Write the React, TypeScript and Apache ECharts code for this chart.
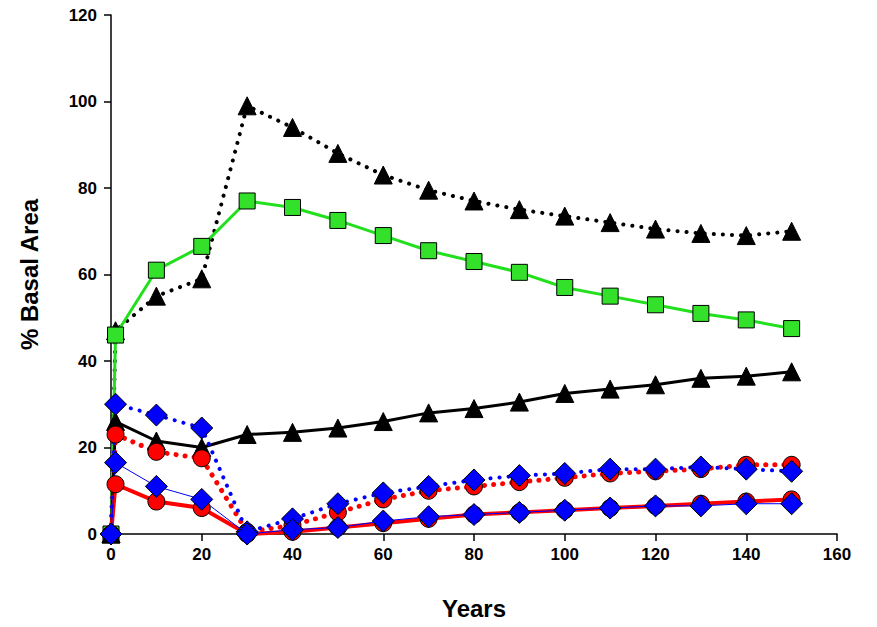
import { useEffect, useRef } from "react";
import * as echarts from "echarts";

const years = [0, 1, 10, 20, 30, 40, 50, 60, 70, 80, 90, 100, 110, 120, 130, 140, 150];
const blackDotted = [0, 47, 55, 59, 99, 94, 88, 83, 79.5, 77, 75, 73.5, 72, 70.5, 69.5, 69, 70];
const greenSolid = [0, 46, 61, 66.5, 77, 75.5, 72.5, 69, 65.5, 63, 60.5, 57, 55, 53, 51, 49.5, 47.5];
const blackSolid = [0, 26, 21.5, 20, 23, 23.5, 24.5, 26, 28, 29, 30.5, 32.5, 33.5, 34.5, 36, 36.5, 37.5];
const redDotted = [0, 23, 19, 17.5, 0.5, 2, 5, 8, 10, 11, 12, 13, 14, 14.5, 15, 16, 16];
const blueDotted = [0, 30, 27.5, 24.5, 0.5, 3.5, 7, 9.5, 11, 12.5, 13.5, 14, 15, 15, 15.5, 15, 14.5];
const redSolid = [0, 11.5, 7.5, 6, 0, 0.5, 1.5, 2.5, 3.5, 4.5, 5, 5.5, 6, 6.5, 7, 7.5, 8];
const blueSolid = [0, 16.5, 11, 8, 0, 1, 1.5, 3, 4, 4.5, 5, 5.5, 6, 6.5, 6.5, 7, 7];

const pts = (v: number[]) => years.map((y, i) => [y, v[i]]);

function mk(data: number[], color: string, dotted: boolean, width: number, symbol: string, size: number, fill: string) {
  return {
    type: "line",
    data: pts(data),
    symbol,
    symbolSize: size,
    lineStyle: { color, type: dotted ? [0.1, 9] : "solid", width, cap: "round" },
    itemStyle: { color: fill, borderColor: "#000", borderWidth: 1 },
  };
}

export default function App() {
  const ref = useRef<HTMLDivElement>(null);
  useEffect(() => {
    if (!ref.current) return;
    const chart = echarts.init(ref.current, null, { renderer: "svg" });
    const label = { color: "#000", fontSize: 17, fontWeight: "bold", fontFamily: "Liberation Sans, Arial" };
    chart.setOption({
      animation: false,
      grid: { left: 111, right: 40, top: 15, bottom: 93 },
      xAxis: {
        type: "value", min: 0, max: 160, interval: 20,
        name: "Years", nameLocation: "middle", nameGap: 62,
        nameTextStyle: { ...label, fontSize: 24 },
        axisLabel: { ...label, margin: 12 },
        axisLine: { lineStyle: { color: "#000", width: 1.5 } },
        axisTick: { length: 7, lineStyle: { color: "#000", width: 1.5 } },
        splitLine: { show: false },
      },
      yAxis: {
        type: "value", min: 0, max: 120, interval: 20,
        name: "% Basal Area", nameLocation: "middle", nameGap: 70,
        nameTextStyle: { ...label, fontSize: 24 },
        axisLabel: { ...label, margin: 14 },
        axisLine: { show: true, lineStyle: { color: "#000", width: 1.5 } },
        axisTick: { show: true, length: 7, lineStyle: { color: "#000", width: 1.5 } },
        splitLine: { show: false },
      },
      series: [
        mk(blackDotted, "#000", true, 4, "triangle", 18, "#000"),
        mk(greenSolid, "#22e01e", false, 3, "rect", 16, "#33e02a"),
        mk(blackSolid, "#000", false, 3, "triangle", 18, "#000"),
        mk(redDotted, "#ff0000", true, 5, "circle", 17, "#ff0000"),
        mk(redSolid, "#ff0000", false, 4, "circle", 17, "#ff0000"),
        mk(blueDotted, "#0000ff", true, 4, "diamond", 22, "#0000ff"),
        mk(blueSolid, "#0000ff", false, 1, "diamond", 22, "#0000ff"),
      ],
    });
    return () => chart.dispose();
  }, []);
  return <div ref={ref} style={{ position: "absolute", left: 0, top: 0, width: 877, height: 627 }} />;
}
